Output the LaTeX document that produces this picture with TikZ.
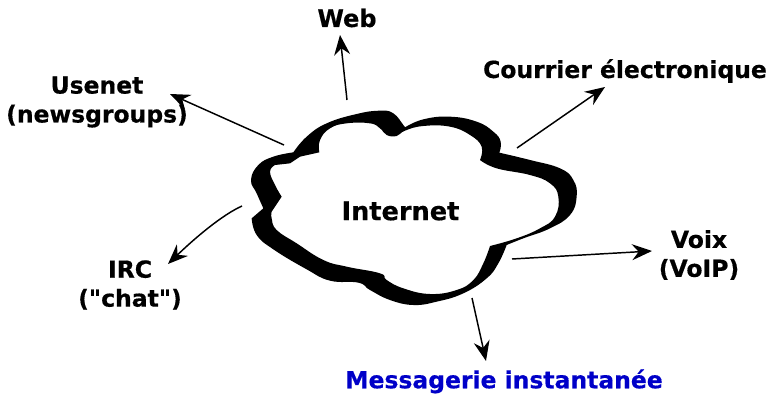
\documentclass[tikz,border=0pt]{standalone}
\usepackage{fontspec}
\newfontfamily\lblfont{DejaVu Sans}[BoldFeatures={FakeBold=0.5}]
\usetikzlibrary{arrows.meta}
\definecolor{imblue}{RGB}{0,0,200}
\tikzset{
  lbl/.style={align=center,inner sep=0pt,font=\lblfont\fontsize{17.6pt}{21.7pt}\selectfont\bfseries},
  conn/.style={line width=1.1pt,-{Stealth[length=15pt,width=12pt,inset=5pt]}},
  cl/.style={smooth,tension=.75}
}
\begin{document}
\begin{tikzpicture}[x=.75pt,y=-.75pt]
\useasboundingbox (0,0) rectangle (768,393);
\begin{scope}[shift={(230,90)},x=.25pt,y=-.25pt]
\fill[black,even odd rule]
  plot[cl] coordinates {(190,187) (230,140) (290,100) (380,72) (450,62) (490,70) (520,105) (525,112)}
  -- plot[cl] coordinates {(525,112) (580,88) (660,80) (740,95) (790,125) (812,155) (808,188)}
  -- plot[cl] coordinates {(808,188) (900,210) (990,235) (1030,270) (1040,320) (1020,375) (960,415) (880,445) (830,465)}
  -- plot[cl] coordinates {(830,465) (805,520) (770,565) (700,610) (620,635) (550,645) (480,630) (420,600) (385,578) (300,572) (230,538) (130,478) (80,435) (65,385)}
  -- (100,355)
  -- plot[cl] coordinates {(100,355) (80,310) (63,270) (85,225) (130,200) (190,187)} -- cycle
  plot[cl] coordinates {(268,187) (270,150) (300,115) (350,100) (420,100) (450,115) (470,135) (500,138) (525,122) (580,108) (660,110) (720,135) (755,170) (750,210)}
  -- plot[cl] coordinates {(750,210) (800,235) (900,255) (960,280) (985,320) (975,380) (930,415) (860,445) (780,468)}
  -- plot[cl] coordinates {(780,468) (760,520) (730,570) (680,600) (600,612) (520,595) (470,570) (450,550) (350,530) (280,510) (200,460) (140,420) (125,385) (125,365)}
  -- (155,320)
  -- plot[cl] coordinates {(155,320) (135,285) (120,245) (135,225)}
  -- (180,220) -- (210,200) -- cycle;
\end{scope}
\node[lbl,font=\lblfont\fontsize{19.2pt}{22pt}\selectfont\bfseries] (net) at (400.5,211) {Internet};
\node[lbl,font=\lblfont\fontsize{18pt}{22pt}\selectfont\bfseries] (web) at (347,18) {Web};
\node[lbl] (use) at (97,102) {Usenet\\(newsgroups)};
\node[lbl] (mail) at (625,71) {Courrier électronique};
\node[lbl] (voix) at (699,255) {Voix\\(VoIP)};
\node[lbl] (irc) at (130,285) {IRC\\("chat")};
\node[lbl,text=imblue] (im) at (504,381.4) {Messagerie instantanée};
\coordinate (cw) at (347,100);
\coordinate (cu) at (284,145);
\coordinate (cm) at (517,148);
\coordinate (cv) at (512,259);
\coordinate (ci) at (472,298);
\coordinate (cr) at (242,206);
\coordinate (tw) at (340,35);
\coordinate (tu) at (170,94);
\coordinate (tm) at (605,87);
\coordinate (tv) at (652,251);
\coordinate (ti) at (486,361);
\coordinate (tr) at (168,264);
\draw[conn] (cw) -- (tw);
\draw[conn] (cu) -- (tu);
\draw[conn] (cm) -- (tm);
\draw[conn] (cv) -- (tv);
\draw[conn] (ci) -- (ti);
\draw[conn] (cr) .. controls (222,215) and (195,238) .. (tr);
\end{tikzpicture}
\end{document}
